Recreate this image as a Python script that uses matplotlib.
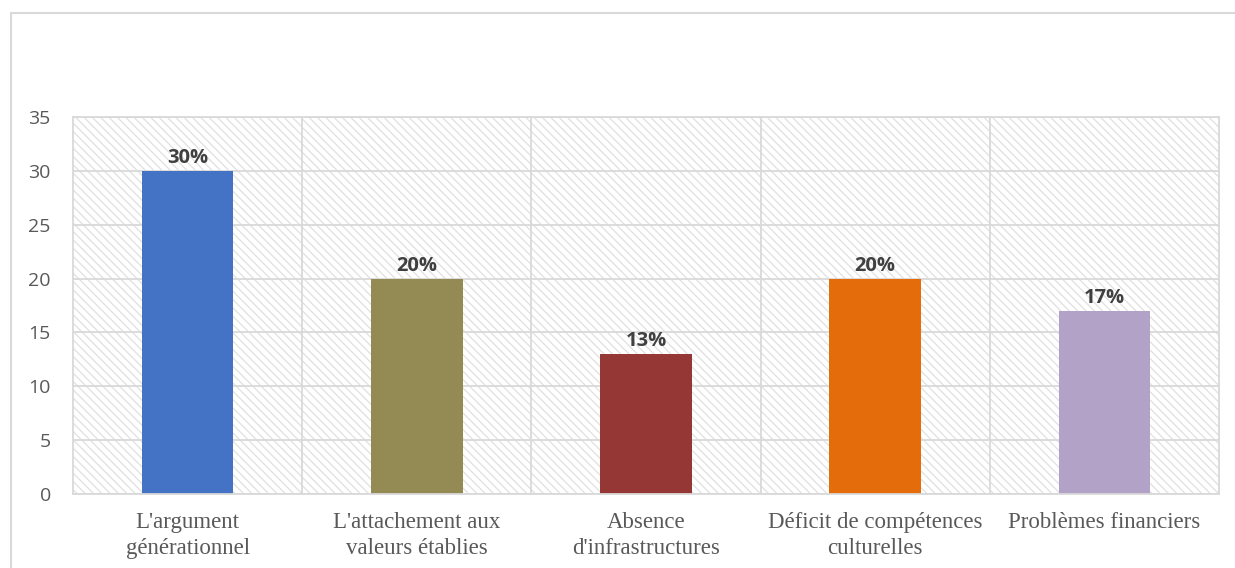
import matplotlib
matplotlib.use("Agg")
import matplotlib.pyplot as plt
from matplotlib.patches import Rectangle

categories = ["L'argument\ngénérationnel", "L'attachement aux\nvaleurs établies",
              "Absence\nd'infrastructures", "Déficit de compétences\nculturelles",
              "Problèmes financiers"]
values = [30, 20, 13, 20, 17]
labels = ["30%", "20%", "13%", "20%", "17%"]
colors = ["#4472C4", "#948A54", "#953735", "#E46C0A", "#B3A2C7"]
yticks = [0, 5, 10, 15, 20, 25, 30, 35]

plt.rcParams['hatch.color'] = '#e0e0e0'
plt.rcParams['hatch.linewidth'] = 0.9

fig = plt.figure(figsize=(12.35, 5.68), dpi=100)
# outer chart border
fig.patches.append(Rectangle((11/1235, -0.05), 1.2, (568-13)/568 + 0.05,
                             transform=fig.transFigure, fill=False,
                             edgecolor='#d9d9d9', linewidth=1.5, zorder=0))

ax = fig.add_axes([73/1235, (568-494)/568, (1219-73)/1235, (494-117)/568])
ax.set_xlim(-0.5, len(categories) - 0.5)
ax.set_ylim(0, 35)

# hatched background
ax.add_patch(Rectangle((0, 0), 1, 1, transform=ax.transAxes, facecolor='white',
                       edgecolor='#e0e0e0', hatch='\\\\\\\\', linewidth=0, zorder=0))

for y in yticks:
    ax.axhline(y, color='#d9d9d9', linewidth=1.3, zorder=1)
for i in range(len(categories) - 1):
    ax.axvline(i + 0.5, color='#d9d9d9', linewidth=1.3, zorder=1)

x = list(range(len(categories)))
ax.bar(x, values, width=0.4, color=colors, zorder=2)
for xi, v, lab in zip(x, values, labels):
    ax.text(xi, v + 0.25, lab, ha='center', va='bottom', fontsize=14.5,
            fontweight='bold', color='#404040', family='Open Sans', zorder=3)

for s in ax.spines.values():
    s.set_color('#d9d9d9')
    s.set_linewidth(1.3)

ax.set_yticks(yticks)
ax.set_yticklabels([str(t) for t in yticks], fontsize=14, color='#595959', family='Open Sans')
ax.set_xticks(x)
ax.set_xticklabels(categories, fontsize=16.5, color='#595959', family='Liberation Serif',
                   linespacing=1.3)
ax.tick_params(axis='both', length=0)
ax.tick_params(axis='y', pad=16)
ax.tick_params(axis='x', pad=13)

fig.savefig("out.png", dpi=100)
